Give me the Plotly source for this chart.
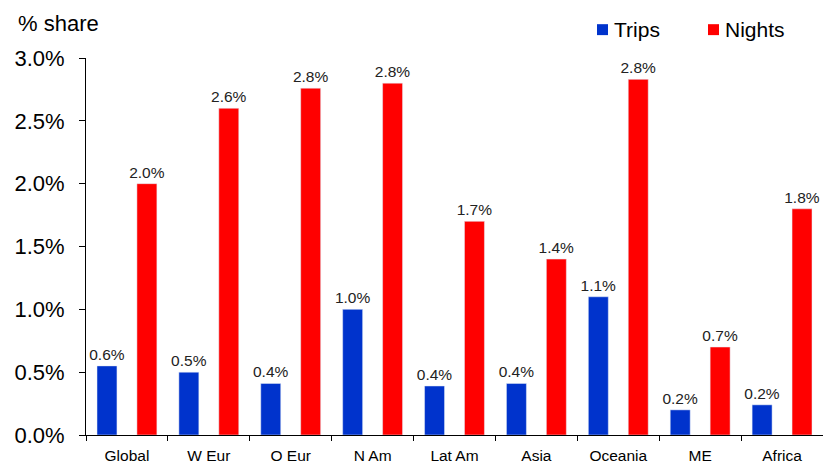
import plotly.graph_objects as go

# Regional share of trips and nights (percent)
regions = ["Global", "W Eur", "O Eur", "N Am", "Lat Am", "Asia", "Oceania", "ME", "Africa"]
trips = [0.55, 0.50, 0.41, 1.00, 0.39, 0.41, 1.10, 0.20, 0.24]
nights = [2.00, 2.60, 2.76, 2.80, 1.70, 1.40, 2.83, 0.70, 1.80]
y_ticks = [0.0, 0.5, 1.0, 1.5, 2.0, 2.5, 3.0]
series_names = ["Trips", "Nights"]

BLUE = "#0033cc"
RED = "#ff0000"
FONT = "Arial, Liberation Sans, sans-serif"

W, H = 823, 464
ML, MR, MT, MB = 86, 0, 58, 27
PW, PH = W - ML - MR, H - MT - MB


def px_x(px):
    return (px - ML) / PW


def px_y(py):
    return (H - MB - py) / PH


fig = go.Figure()
for name, vals, col in [("Trips", trips, BLUE), ("Nights", nights, RED)]:
    fig.add_trace(go.Bar(
        name=name, x=regions, y=vals, marker_color=col,
        texttemplate="%{y:.1f}%", textposition="outside",
        constraintext="none", cliponaxis=False,
        textfont=dict(size=15.5, color="#222222", family=FONT),
    ))

fig.update_layout(
    width=W, height=H,
    margin=dict(l=ML, r=MR, t=MT, b=MB),
    paper_bgcolor="white", plot_bgcolor="white",
    barmode="group", bargap=0.025, bargroupgap=0.5,
    font=dict(family=FONT, color="black"),
    showlegend=False,
)

fig.update_yaxes(
    range=[0, 3.0], tickvals=y_ticks,
    ticktext=[f"{v:.1f}%" for v in y_ticks],
    showgrid=False, zeroline=False,
    showline=True, linecolor="black", linewidth=1,
    ticks="outside", ticklen=6, tickcolor="black",
    ticklabelstandoff=10,
    tickfont=dict(size=22, color="black", family=FONT),
)
fig.update_xaxes(
    showgrid=False, showline=True, linecolor="black", linewidth=1,
    ticks="outside", ticklen=5, tickcolor="black", tickson="boundaries",
    ticklabelstandoff=6,
    tickfont=dict(size=15.5, color="black", family=FONT),
)

# axis caption
fig.add_annotation(
    text="% share", xref="paper", yref="paper", x=px_x(16), y=px_y(23),
    xanchor="left", yanchor="middle", showarrow=False,
    font=dict(size=22, color="black", family=FONT),
)

# legend: coloured square + series name
legend_items = [(series_names[0], BLUE, 597), (series_names[1], RED, 708)]
for name, col, left in legend_items:
    fig.add_shape(
        type="rect", xref="paper", yref="paper",
        x0=px_x(left), x1=px_x(left + 11), y0=px_y(35), y1=px_y(24),
        fillcolor=col, line=dict(width=0),
    )
    fig.add_annotation(
        text=name, xref="paper", yref="paper", x=px_x(left + 15), y=px_y(29.5),
        xanchor="left", yanchor="middle", showarrow=False,
        font=dict(size=21, color="black", family=FONT),
    )

fig.write_html("out.html")
